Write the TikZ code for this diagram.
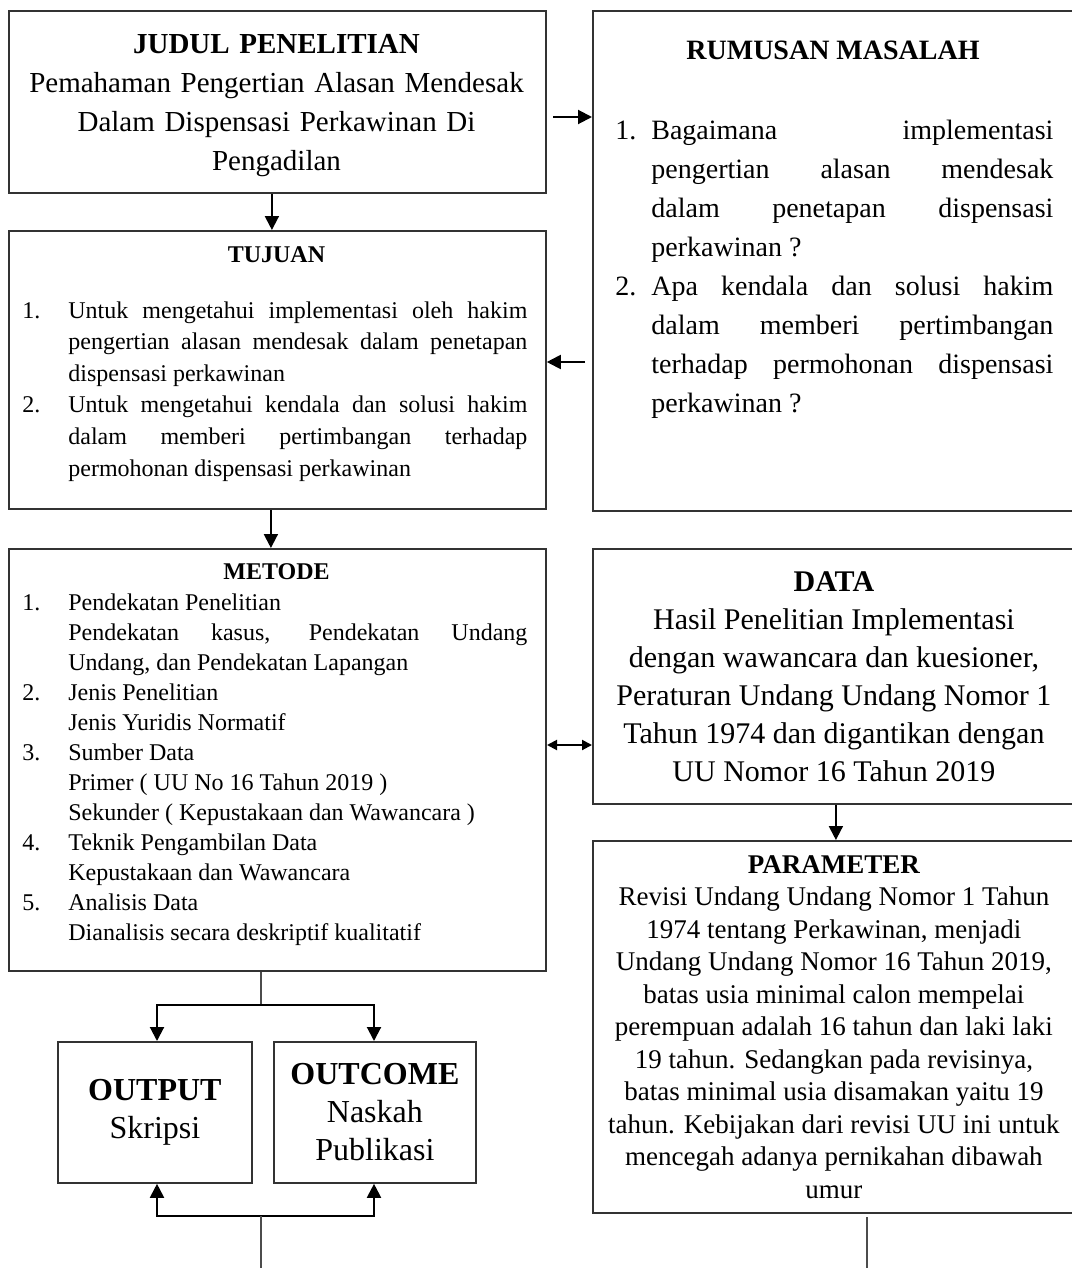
\documentclass[tikz,border=0pt]{standalone}
\usepackage{fontspec}
\setmainfont{Liberation Serif}
\usetikzlibrary{arrows.meta,calc}
\newcommand\fsz[2]{\fontsize{#1}{#2}\selectfont}
\newcommand\numit[2]{\par\noindent\hangindent=#1\relax\hangafter=1\relax\makebox[#1][l]{#2}\ignorespaces}
\begin{document}
\begin{tikzpicture}[x=0.5pt,y=-0.5pt,
 box/.style={draw=black!80,line width=0.9pt,inner sep=0pt},
 arr/.style={-{Triangle[length=7pt,width=7pt]},line width=1pt,black},
 twoarr/.style={{Triangle[length=7pt,width=7pt]}-{Triangle[length=7pt,width=7pt]},line width=1pt,black},
 smallarr/.style={{Triangle[length=5pt,width=5pt]}-{Triangle[length=5pt,width=5pt]},line width=1pt,black},
 gline/.style={draw=black!70,line width=0.7pt},
 txt/.style={inner sep=0pt}]
\useasboundingbox (0,0) rectangle (1071,1268);

% boxes
\node[box,anchor=north west,minimum width=268.5pt,minimum height=91pt] (judul) at (8,10) {};
\node[box,anchor=north west,minimum width=241pt,minimum height=250pt] (rumusan) at (592,10) {};
\node[box,anchor=north west,minimum width=268.5pt,minimum height=139pt] (tujuan) at (8,230) {};
\node[box,anchor=north west,minimum width=268.5pt,minimum height=211pt] (metode) at (8,548) {};
\node[box,anchor=north west,minimum width=241pt,minimum height=127.5pt,align=center,font=\fsz{15}{19}] (data) at (592,548)
 {\textbf{DATA}\\Hasil Penelitian Implementasi\\dengan wawancara dan kuesioner,\\Peraturan Undang Undang Nomor 1\\Tahun 1974 dan digantikan dengan\\UU Nomor 16 Tahun 2019};
\node[box,anchor=north west,minimum width=241pt,minimum height=186pt,align=center,font=\fsz{13.5}{16.25}] (parameter) at (592,840)
 {\textbf{PARAMETER}\\Revisi Undang Undang Nomor 1 Tahun\\1974 tentang Perkawinan, menjadi\\Undang Undang Nomor 16 Tahun 2019,\\batas usia minimal calon mempelai\\perempuan adalah 16 tahun dan laki laki\\19 tahun. Sedangkan pada revisinya,\\batas minimal usia disamakan yaitu 19\\tahun. Kebijakan dari revisi UU ini untuk\\mencegah adanya pernikahan dibawah\\umur};
\node[box,anchor=north west,minimum width=97pt,minimum height=70.5pt,align=center,font=\fsz{16}{19}] (output) at (57,1041)
 {\textbf{OUTPUT}\\Skripsi};
\node[box,anchor=north west,minimum width=101pt,minimum height=70.5pt,align=center,font=\fsz{16}{19}] (outcome) at (273,1041)
 {\textbf{OUTCOME}\\Naskah\\Publikasi};

% texts
\node[txt,anchor=north,text width=264pt,align=center,font=\fsz{14.5}{19.5}] (judulT) at (276.5,34)
 {\textbf{JUDUL PENELITIAN}\\Pemahaman Pengertian Alasan Mendesak\\Dalam Dispensasi Perkawinan Di\\Pengadilan};
\node[txt,font=\fsz{14}{19.5}\bfseries] (rumT) at (833,50) {RUMUSAN MASALAH};
\node[txt,anchor=north west,text width=219pt,align=justify,font=\fsz{14}{19.5}] (rumL) at (615,100)
 {\numit{18pt}{1.}Bagaimana implementasi\break pengertian alasan mendesak\break dalam penetapan dispensasi\break perkawinan ?
  \numit{18pt}{2.}Apa kendala dan solusi hakim\break dalam memberi pertimbangan\break terhadap permohonan dispensasi\break perkawinan ?\par};
\node[txt,font=\fsz{12}{14}\bfseries] (tujT) at (276.5,255) {TUJUAN};
\node[txt,anchor=north west,text width=252.5pt,align=justify,font=\fsz{12}{15.8}] (tujL) at (22,286)
 {\numit{23pt}{1.}Untuk mengetahui implementasi oleh hakim\break pengertian alasan mendesak dalam penetapan\break dispensasi perkawinan
  \numit{23pt}{2.}Untuk mengetahui kendala dan solusi hakim\break dalam memberi pertimbangan terhadap\break permohonan dispensasi perkawinan\par};
\node[txt,font=\fsz{12}{14}\bfseries] (metT) at (276.5,572) {METODE};
\node[txt,anchor=north west,text width=252.5pt,align=justify,font=\fsz{12}{15}] (metL) at (22,580)
 {\numit{23pt}{1.}Pendekatan Penelitian\hfil\break Pendekatan kasus, Pendekatan Undang\break Undang, dan Pendekatan Lapangan
  \numit{23pt}{2.}Jenis Penelitian\hfil\break Jenis Yuridis Normatif
  \numit{23pt}{3.}Sumber Data\hfil\break Primer ( UU No 16 Tahun 2019 )\hfil\break Sekunder ( Kepustakaan dan Wawancara )
  \numit{23pt}{4.}Teknik Pengambilan Data\hfil\break Kepustakaan dan Wawancara
  \numit{23pt}{5.}Analisis Data\hfil\break Dianalisis secara deskriptif kualitatif\par};

% connectors
\coordinate (a1) at (553,117);
\draw[arr] (a1) -- (a1 -| rumusan.west);
\coordinate (a2) at (585,362);
\draw[arr] (a2) -- (a2 -| tujuan.east);
\draw[arr] ([xshift=-2.75pt]judul.south) -- ([xshift=-2.75pt]tujuan.north);
\draw[arr] ([xshift=-3.25pt]tujuan.south) -- ([xshift=-3.25pt]metode.north);
\draw[arr] ([xshift=1pt]data.south) -- ([xshift=1pt]parameter.north);
\coordinate (d1) at (547,745);
\draw[smallarr] (d1) -- (d1 -| data.west);

\coordinate (f0) at (261,1005);
\coordinate (fl) at (157,1005);
\coordinate (fr) at (374,1005);
\draw[gline] (f0 |- metode.south) -- (f0);
\draw[twoarr] (fl |- output.north) -- (fl) -- (fr) -- (fr |- outcome.north);

\coordinate (b0) at (261,1216);
\coordinate (bl) at (157,1216);
\coordinate (br) at (374,1216);
\coordinate (bend) at (261,1268);
\draw[twoarr] (bl |- output.south) -- (bl) -- (br) -- (br |- outcome.south);
\draw[gline] (b0) -- (bend);
\coordinate (p0) at (867,1217);
\coordinate (pend) at (867,1268);
\draw[gline] (p0) -- (pend);
\end{tikzpicture}
\end{document}
